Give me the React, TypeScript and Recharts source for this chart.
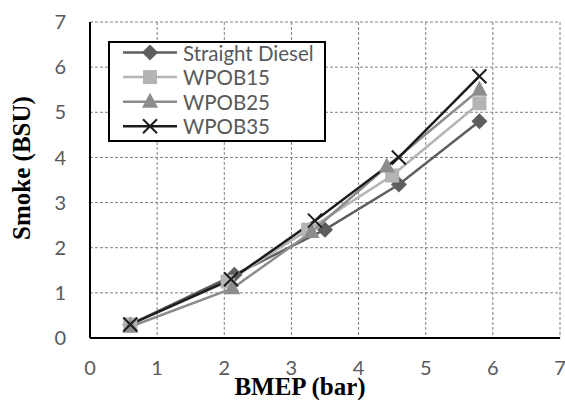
import React from 'react';
import { LineChart, Line, XAxis, YAxis, CartesianGrid, Legend } from 'recharts';

// BMEP (bar) and smoke opacity (BSU) for each fuel blend
const bmepDiesel = [0.6, 2.15, 3.5, 4.6, 5.8];
const smokeDiesel = [0.3, 1.4, 2.4, 3.4, 4.8];
const bmepWPOB15 = [0.6, 2.05, 3.25, 4.5, 5.8];
const smokeWPOB15 = [0.3, 1.25, 2.4, 3.6, 5.2];
const bmepWPOB25 = [0.6, 2.12, 3.3, 4.42, 5.8];
const smokeWPOB25 = [0.25, 1.1, 2.35, 3.8, 5.5];
const bmepWPOB35 = [0.6, 2.1, 3.35, 4.6, 5.8];
const smokeWPOB35 = [0.3, 1.3, 2.6, 4.0, 5.8];

const seriesNames = ['Straight Diesel', 'WPOB15', 'WPOB25', 'WPOB35'];
const axisTicks = [0, 1, 2, 3, 4, 5, 6, 7];

type MarkerKind = 'diamond' | 'square' | 'triangle' | 'cross';

const toPoints = (xs: number[], ys: number[]) => xs.map((x, i) => ({ x, y: ys[i] }));

const series: { name: string; color: string; marker: MarkerKind; data: { x: number; y: number }[] }[] = [
  { name: seriesNames[0], color: '#5e5e5e', marker: 'diamond', data: toPoints(bmepDiesel, smokeDiesel) },
  { name: seriesNames[1], color: '#b4b4b4', marker: 'square', data: toPoints(bmepWPOB15, smokeWPOB15) },
  { name: seriesNames[2], color: '#8c8c8c', marker: 'triangle', data: toPoints(bmepWPOB25, smokeWPOB25) },
  { name: seriesNames[3], color: '#1c1c1c', marker: 'cross', data: toPoints(bmepWPOB35, smokeWPOB35) },
];

const TICK_FONT = 'Lato, "Open Sans", sans-serif';
const TITLE_FONT = '"Liberation Serif", "Times New Roman", serif';

function Marker({ kind, cx, cy, color }: { kind: MarkerKind; cx: number; cy: number; color: string }) {
  switch (kind) {
    case 'diamond':
      return <path d={`M${cx},${cy - 8}L${cx + 8},${cy}L${cx},${cy + 8}L${cx - 8},${cy}Z`} fill={color} />;
    case 'square':
      return <rect x={cx - 7} y={cy - 7} width={14} height={14} fill={color} />;
    case 'triangle':
      return <path d={`M${cx},${cy - 9}L${cx + 8},${cy + 6}L${cx - 8},${cy + 6}Z`} fill={color} />;
    default:
      return (
        <path
          d={`M${cx - 7},${cy - 7}L${cx + 7},${cy + 7}M${cx + 7},${cy - 7}L${cx - 7},${cy + 7}`}
          stroke={color}
          strokeWidth={2}
          fill="none"
        />
      );
  }
}

function LegendBox() {
  return (
    <svg width={218} height={101} style={{ display: 'block' }}>
      <rect x={1} y={1} width={216} height={99} fill="#fff" stroke="#000" strokeWidth={2} />
      {series.map((s, i) => {
        const y = 11.5 + i * 24.6;
        return (
          <g key={s.name}>
            <line x1={15} x2={69} y1={y} y2={y} stroke={s.color} strokeWidth={2.5} />
            <Marker kind={s.marker} cx={42} cy={y} color={s.color} />
            <text
              x={75}
              y={y}
              dominantBaseline="central"
              fontFamily={TICK_FONT}
              fontSize={20.5}
              fill="#595959"
            >
              {s.name}
            </text>
          </g>
        );
      })}
    </svg>
  );
}

const YTitle = (props: any) => {
  const vb = props.viewBox || {};
  const x = vb.x + 30;
  const y = vb.y + vb.height / 2 - 12;
  return (
    <text
      x={x}
      y={y}
      transform={`rotate(-90, ${x}, ${y})`}
      textAnchor="middle"
      fontFamily={TITLE_FONT}
      fontWeight="bold"
      fontSize={25}
      fill="#000"
    >
      Smoke (BSU)
    </text>
  );
};

const XTitle = (props: any) => {
  const vb = props.viewBox || {};
  const x = vb.x + vb.width / 2 - 25;
  const y = vb.y + 57;
  return (
    <text x={x} y={y} textAnchor="middle" fontFamily={TITLE_FONT} fontWeight="bold" fontSize={25} fill="#000">
      BMEP (bar)
    </text>
  );
};

export default function App() {
  return (
    <div style={{ position: 'absolute', left: 0, top: 0, width: 565, height: 400, background: '#fff' }}>
      <LineChart width={565} height={400} margin={{ top: 22, right: 5, bottom: 0, left: 0 }}>
        <CartesianGrid stroke="#808080" strokeDasharray="3 2" strokeWidth={1} />
        <XAxis
          type="number"
          dataKey="x"
          domain={[0, 7]}
          ticks={axisTicks}
          height={62}
          tickLine={false}
          tickSize={0}
          tickMargin={23}
          axisLine={{ stroke: '#000', strokeWidth: 2 }}
          tick={{ fill: '#595959', fontFamily: TICK_FONT, fontSize: 20 }}
          label={<XTitle />}
        />
        <YAxis
          type="number"
          dataKey="y"
          domain={[0, 7]}
          ticks={axisTicks}
          width={90}
          tickLine={false}
          tickSize={0}
          tickMargin={24}
          axisLine={{ stroke: '#000', strokeWidth: 2 }}
          tick={{ fill: '#595959', fontFamily: TICK_FONT, fontSize: 20 }}
          label={<YTitle />}
        />
        <Legend
          layout="vertical"
          align="center"
          verticalAlign="middle"
          content={() => <LegendBox />}
          wrapperStyle={{ position: 'absolute', left: 108, top: 41, width: 218, height: 101 }}
        />
        {series.map((s) => (
          <Line
            key={s.name}
            data={s.data}
            dataKey="y"
            name={s.name}
            stroke={s.color}
            strokeWidth={2.5}
            isAnimationActive={false}
            dot={(p: any) => (
              <Marker key={`${s.name}-${p.index}`} kind={s.marker} cx={p.cx} cy={p.cy} color={s.color} />
            )}
            activeDot={false}
          />
        ))}
      </LineChart>
    </div>
  );
}
